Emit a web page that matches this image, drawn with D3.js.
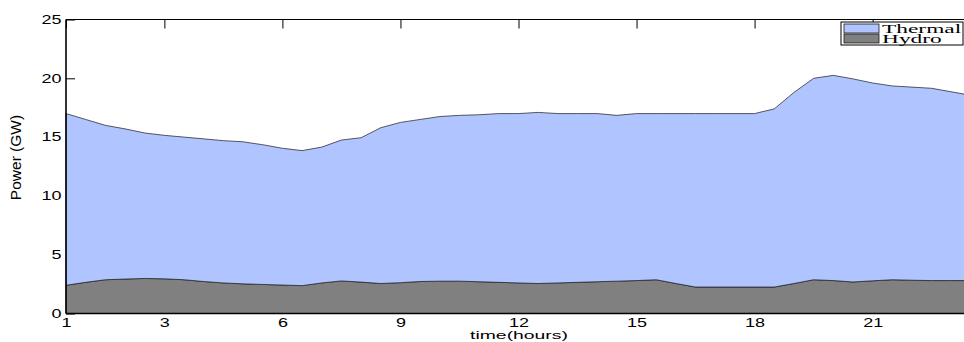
<!DOCTYPE html>
<html>
<head>
<meta charset="utf-8">
<script src="https://cdn.jsdelivr.net/npm/d3@7"></script>
<style>
  html, body { margin: 0; padding: 0; background: #fff; }
  svg { display: block; }
</style>
</head>
<body>
<svg id="chart" width="964" height="342"></svg>
<script>
// Half-hour sample index (1 = 00:30 ... 47)
const sampleIndex = d3.range(1, 48);

// Hydro generation per half hour (GW)
const hydro = [
  2.40, 2.65, 2.87, 2.93, 2.98, 2.95, 2.87, 2.72, 2.60, 2.52,
  2.47, 2.42, 2.37, 2.60, 2.77, 2.67, 2.55, 2.62, 2.72, 2.75,
  2.75, 2.70, 2.65, 2.60, 2.55, 2.60, 2.65, 2.70, 2.75, 2.80,
  2.87, 2.55, 2.25, 2.25, 2.25, 2.25, 2.25, 2.55, 2.87, 2.80,
  2.68, 2.78, 2.87, 2.83, 2.80, 2.80, 2.80
];

// Thermal generation per half hour (GW), stacked on hydro
const thermal = [
  14.60, 13.85, 13.13, 12.77, 12.37, 12.20, 12.13, 12.13, 12.10, 12.08,
  11.88, 11.63, 11.48, 11.55, 11.98, 12.28, 13.25, 13.63, 13.78, 14.00,
  14.10, 14.20, 14.35, 14.40, 14.55, 14.40, 14.35, 14.30, 14.10, 14.20,
  14.13, 14.45, 14.75, 14.75, 14.75, 14.75, 15.15, 16.25, 17.13, 17.45,
  17.27, 16.82, 16.48, 16.42, 16.35, 16.05, 15.75
];

// Tick positions (sample index) and the hour labels shown for them
const xTickValues = [1, 6, 12, 18, 24, 30, 36, 42];
const xTickLabels = ["1", "3", "6", "9", "12", "15", "18", "21"];
const yTickValues = [0, 5, 10, 15, 20, 25];

const seriesKeys = ["hydro", "thermal"];
const seriesNames = { hydro: "Hydro", thermal: "Thermal" };
const seriesColors = { hydro: "#808080", thermal: "#b0c4ff" };

const rows = sampleIndex.map((t, i) => ({ t, hydro: hydro[i], thermal: thermal[i] }));

const svg = d3.select("#chart");
const plot = { left: 66, right: 971, top: 19.5, bottom: 313.5 };

const x = d3.scaleLinear().domain([1, 47]).range([plot.left, plot.right]);
const y = d3.scaleLinear().domain([0, 25]).range([plot.bottom, plot.top]);

const stacked = d3.stack().keys(seriesKeys)(rows);

// Inward ticks on left and top (sit beneath the filled areas)
const yAxis = svg.append("g")
  .attr("transform", `translate(${plot.left},0)`)
  .call(d3.axisLeft(y).tickValues(yTickValues).tickSizeInner(-9).tickSizeOuter(0)
    .tickPadding(3).tickFormat(d3.format("d")));
yAxis.select(".domain").remove();

const topAxis = svg.append("g")
  .attr("transform", `translate(0,${plot.top})`)
  .call(d3.axisTop(x).tickValues(xTickValues).tickSizeInner(-9).tickSizeOuter(0)
    .tickFormat(() => ""));
topAxis.select(".domain").remove();

const xAxis = svg.append("g")
  .attr("transform", `translate(0,${plot.bottom})`)
  .call(d3.axisBottom(x).tickValues(xTickValues).tickSizeInner(-9).tickSizeOuter(0)
    .tickPadding(4.5).tickFormat((d, i) => xTickLabels[i]));
xAxis.select(".domain").remove();

[yAxis, topAxis, xAxis].forEach(g => g.selectAll(".tick line").attr("stroke", "#000").attr("stroke-width", 1));

// Stacked areas
const area = d3.area()
  .x(d => x(d.data.t))
  .y0(d => y(d[0]))
  .y1(d => y(d[1]));

svg.append("g")
  .selectAll("path")
  .data(stacked)
  .join("path")
  .attr("d", area)
  .attr("fill", d => seriesColors[d.key])
  .attr("stroke", "#1a1a1a")
  .attr("stroke-width", 0.7);

// Axis box lines
const box = svg.append("g").attr("stroke", "#000").attr("fill", "none");
box.append("line").attr("x1", plot.left).attr("x2", plot.right).attr("y1", plot.top).attr("y2", plot.top).attr("stroke-width", 1);
box.append("line").attr("x1", plot.left).attr("x2", plot.left).attr("y1", plot.top).attr("y2", plot.bottom).attr("stroke-width", 1.6);
box.append("line").attr("x1", plot.left).attr("x2", plot.right).attr("y1", plot.bottom).attr("y2", plot.bottom).attr("stroke-width", 1.6);

// Tick label styling (wide sans glyphs)
const tickFont = "'Liberation Sans', Arial, sans-serif";
yAxis.selectAll(".tick text")
  .attr("font-family", tickFont).attr("font-size", 12).attr("fill", "#000")
  .attr("x", -4.5 / 1.5)
  .attr("transform", "scale(1.5,1)");
xAxis.selectAll(".tick text")
  .attr("font-family", tickFont).attr("font-size", 12).attr("fill", "#000")
  .attr("transform", "scale(1.5,1)");

// Axis titles
svg.append("text")
  .attr("transform", "translate(21,157.5) rotate(-90)")
  .attr("text-anchor", "middle")
  .attr("font-family", tickFont)
  .attr("font-size", 15.5)
  .text("Power (GW)");

svg.append("text")
  .attr("transform", "translate(519,339) scale(1.76,1)")
  .attr("text-anchor", "middle")
  .attr("font-family", tickFont)
  .attr("font-size", 11)
  .text("time(hours)");

// Legend
const legend = svg.append("g");
legend.append("rect")
  .attr("x", 841).attr("y", 22).attr("width", 122).attr("height", 23)
  .attr("fill", "#fff").attr("stroke", "#000").attr("stroke-width", 1);

const legendOrder = ["thermal", "hydro"];
const legendRows = legend.selectAll("g.entry")
  .data(legendOrder)
  .join("g")
  .attr("class", "entry")
  .attr("transform", (d, i) => `translate(844,${24 + i * 10})`);

legendRows.append("rect")
  .attr("width", 35).attr("height", 9)
  .attr("fill", d => seriesColors[d])
  .attr("stroke", "#1a1a1a").attr("stroke-width", 0.8);

legendRows.append("text")
  .attr("transform", "translate(38,8.5) scale(1.95,1)")
  .attr("font-family", "'Liberation Serif', 'Times New Roman', serif")
  .attr("font-size", 12)
  .attr("fill", "#000")
  .text(d => seriesNames[d]);
</script>
</body>
</html>
